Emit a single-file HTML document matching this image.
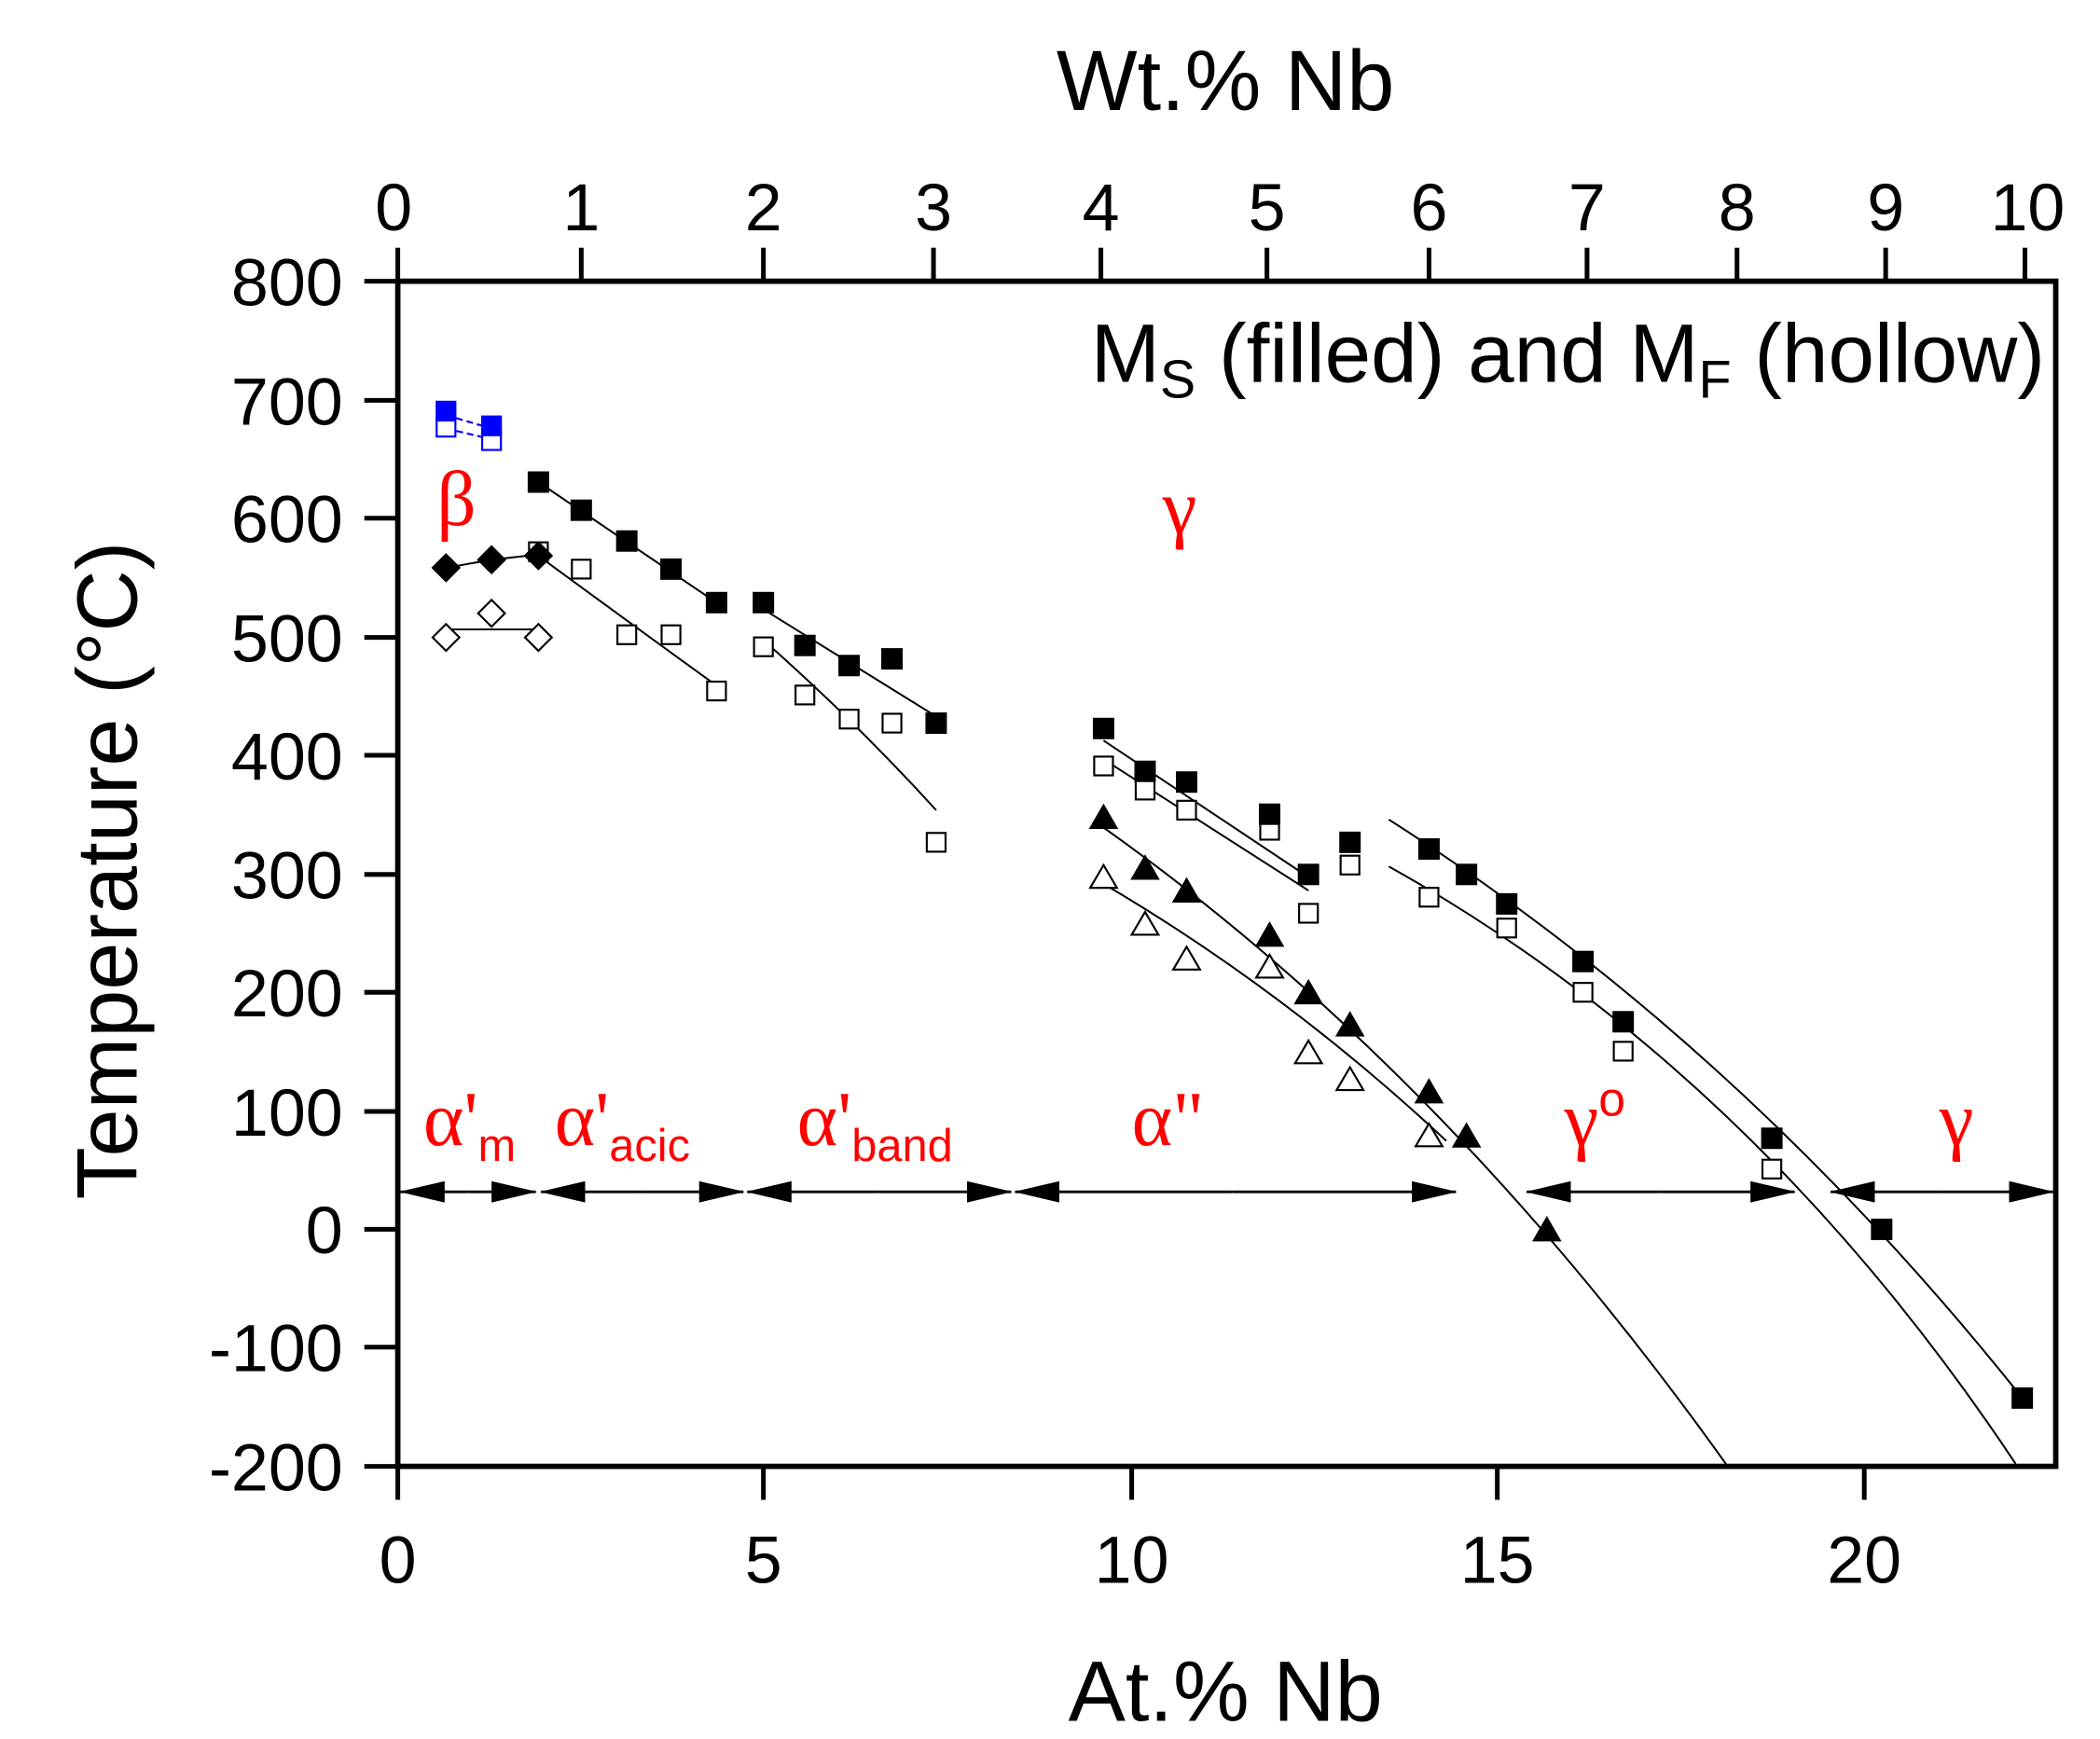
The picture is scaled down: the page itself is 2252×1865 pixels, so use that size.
<!DOCTYPE html>
<html><head><meta charset="utf-8"><style>html,body{margin:0;padding:0;background:#fff}svg{display:block}</style></head>
<body>
<svg width="2252" height="1865" viewBox="0 0 1568 1298.6" xmlns="http://www.w3.org/2000/svg" font-family="Liberation Sans, Arial, sans-serif">
<defs>
<marker id="ah" markerWidth="34" markerHeight="16" refX="33" refY="8" orient="auto" markerUnits="userSpaceOnUse"><path d="M0,0 L34,8 L0,16z" fill="#000"/></marker>
</defs>
<rect width="1568" height="1298.6" fill="#fff"/>
<g stroke="#000" stroke-width="4" fill="none">
<rect x="297" y="210" width="1238" height="885"/>
</g>
<g stroke="#000" stroke-width="3.5">
<line x1="272" y1="210" x2="297" y2="210"/><line x1="272" y1="299" x2="297" y2="299"/><line x1="272" y1="387" x2="297" y2="387"/><line x1="272" y1="476" x2="297" y2="476"/><line x1="272" y1="564" x2="297" y2="564"/><line x1="272" y1="653" x2="297" y2="653"/><line x1="272" y1="741" x2="297" y2="741"/><line x1="272" y1="830" x2="297" y2="830"/><line x1="272" y1="918" x2="297" y2="918"/><line x1="272" y1="1006" x2="297" y2="1006"/><line x1="272" y1="1095" x2="297" y2="1095"/>
<line x1="297" y1="1095" x2="297" y2="1120"/><line x1="570" y1="1095" x2="570" y2="1120"/><line x1="845" y1="1095" x2="845" y2="1120"/><line x1="1118" y1="1095" x2="1118" y2="1120"/><line x1="1392" y1="1095" x2="1392" y2="1120"/>
<line x1="297" y1="210" x2="297" y2="185"/><line x1="434" y1="210" x2="434" y2="185"/><line x1="570" y1="210" x2="570" y2="185"/><line x1="697" y1="210" x2="697" y2="185"/><line x1="822" y1="210" x2="822" y2="185"/><line x1="946" y1="210" x2="946" y2="185"/><line x1="1067" y1="210" x2="1067" y2="185"/><line x1="1185" y1="210" x2="1185" y2="185"/><line x1="1297" y1="210" x2="1297" y2="185"/><line x1="1408" y1="210" x2="1408" y2="185"/><line x1="1512" y1="210" x2="1512" y2="185"/>
</g>
<g font-size="50" text-anchor="end" fill="#000">
<text x="256" y="228">800</text><text x="256" y="317">700</text><text x="256" y="405">600</text><text x="256" y="494">500</text><text x="256" y="582">400</text><text x="256" y="671">300</text><text x="256" y="759">200</text><text x="256" y="848">100</text><text x="256" y="936">0</text><text x="256" y="1024">-100</text><text x="256" y="1113">-200</text>
</g>
<g font-size="50" text-anchor="middle">
<text x="297" y="1182">0</text><text x="570" y="1182">5</text><text x="845" y="1182">10</text><text x="1118" y="1182">15</text><text x="1392" y="1182">20</text>
<text x="294" y="172">0</text><text x="434" y="172">1</text><text x="570" y="172">2</text><text x="697" y="172">3</text><text x="822" y="172">4</text><text x="946" y="172">5</text><text x="1067" y="172">6</text><text x="1185" y="172">7</text><text x="1297" y="172">8</text><text x="1408" y="172">9</text><text x="1514" y="172">10</text>
</g>
<text x="915" y="82" font-size="64" text-anchor="middle">Wt.% Nb</text>
<text x="915" y="1285" font-size="64" text-anchor="middle">At.% Nb</text>
<text transform="translate(102,650) rotate(-90)" font-size="64" text-anchor="middle">Temperature  (°C)</text>
<text x="1527" y="285" font-size="62" text-anchor="end">M<tspan font-size="40" dy="12">S</tspan><tspan dy="-12"> (filled) and M</tspan><tspan font-size="40" dy="12">F</tspan><tspan dy="-12"> (hollow)</tspan></text>
<g fill="#f00" font-family="Liberation Serif, serif" font-size="58">
<text x="326" y="392">β</text>
<text x="868" y="398">γ</text>
<text x="316" y="855">α'<tspan font-family="Liberation Sans, sans-serif" font-size="34" dy="12">m</tspan></text>
<text x="414" y="855">α'<tspan font-family="Liberation Sans, sans-serif" font-size="34" dy="12">acic</tspan></text>
<text x="595" y="855">α'<tspan font-family="Liberation Sans, sans-serif" font-size="34" dy="12">band</tspan></text>
<text x="845" y="855">α"</text>
<text x="1168" y="855">γ<tspan font-family="Liberation Sans, sans-serif" font-size="36" dy="-22">o</tspan></text>
<text x="1448" y="855">γ</text>
</g>
<g stroke="#000" stroke-width="2">
<line x1="350" y1="890" x2="299" y2="890" marker-end="url(#ah)"/><line x1="350" y1="890" x2="400" y2="890" marker-end="url(#ah)"/>
<line x1="478" y1="890" x2="404" y2="890" marker-end="url(#ah)"/><line x1="478" y1="890" x2="555" y2="890" marker-end="url(#ah)"/>
<line x1="656" y1="890" x2="558" y2="890" marker-end="url(#ah)"/><line x1="656" y1="890" x2="755" y2="890" marker-end="url(#ah)"/>
<line x1="920" y1="890" x2="758" y2="890" marker-end="url(#ah)"/><line x1="920" y1="890" x2="1087" y2="890" marker-end="url(#ah)"/>
<line x1="1240" y1="890" x2="1140" y2="890" marker-end="url(#ah)"/><line x1="1240" y1="890" x2="1340" y2="890" marker-end="url(#ah)"/>
<line x1="1450" y1="890" x2="1367" y2="890" marker-end="url(#ah)"/><line x1="1450" y1="890" x2="1533" y2="890" marker-end="url(#ah)"/>
</g>
<g stroke="#000" stroke-width="1.4" fill="none">
<polyline points="333,424 367,418 402,414"/>
<line x1="333" y1="470" x2="402" y2="470"/>
<line x1="402" y1="360" x2="535" y2="450"/>
<path d="M402,415 Q470,465 535,512"/>
<line x1="570" y1="455" x2="699" y2="535"/>
<path d="M570,478 Q640,540 699,605"/>
<line x1="824" y1="553" x2="977" y2="655"/>
<line x1="824" y1="567" x2="977" y2="665"/>
<path d="M824,618 Q1080,800 1290,1095"/>
<path d="M824,660 Q960,740 1080,852"/>
<path d="M1037,612 Q1300,780 1510,1044"/>
<path d="M1037,647 Q1310,800 1505,1093"/>
</g>
<g stroke="#00f" stroke-width="1.5" fill="none" stroke-dasharray="5,3">
<line x1="333" y1="310" x2="367" y2="320"/><line x1="333" y1="320" x2="367" y2="328"/>
</g>
<g stroke="#00f" stroke-width="1.5">
<rect x="326" y="312" width="14" height="14" fill="#fff"/><rect x="360" y="322" width="14" height="14" fill="#fff"/>
<rect x="326" y="300" width="14" height="14" fill="#00f"/><rect x="360" y="311" width="14" height="14" fill="#00f"/>
</g>
<g fill="#fff" stroke="#000" stroke-width="1.5">
<rect x="395" y="405" width="14" height="14"/><rect x="427" y="418" width="14" height="14"/><rect x="461" y="467" width="14" height="14"/><rect x="494" y="467" width="14" height="14"/><rect x="528" y="509" width="14" height="14"/>
<rect x="563" y="476" width="14" height="14"/><rect x="594" y="512" width="14" height="14"/><rect x="627" y="530" width="14" height="14"/><rect x="659" y="533" width="14" height="14"/><rect x="692" y="622" width="14" height="14"/>
<rect x="817" y="565" width="14" height="14"/><rect x="848" y="583" width="14" height="14"/><rect x="879" y="598" width="14" height="14"/><rect x="941" y="613" width="14" height="14"/><rect x="970" y="675" width="14" height="14"/><rect x="1001" y="639" width="14" height="14"/>
<rect x="1060" y="663" width="14" height="14"/><rect x="1118" y="686" width="14" height="14"/><rect x="1175" y="734" width="14" height="14"/><rect x="1205" y="778" width="14" height="14"/><rect x="1316" y="866" width="14" height="14"/>
</g>
<g fill="#000">
<rect x="394" y="352" width="16" height="16"/><rect x="426" y="373" width="16" height="16"/><rect x="460" y="396" width="16" height="16"/><rect x="493" y="417" width="16" height="16"/><rect x="527" y="442" width="16" height="16"/>
<rect x="562" y="442" width="16" height="16"/><rect x="593" y="474" width="16" height="16"/><rect x="626" y="489" width="16" height="16"/><rect x="658" y="484" width="16" height="16"/><rect x="691" y="532" width="16" height="16"/>
<rect x="816" y="536" width="16" height="16"/><rect x="847" y="568" width="16" height="16"/><rect x="878" y="576" width="16" height="16"/><rect x="940" y="600" width="16" height="16"/><rect x="969" y="645" width="16" height="16"/><rect x="1000" y="621" width="16" height="16"/>
<rect x="1059" y="626" width="16" height="16"/><rect x="1087" y="645" width="16" height="16"/><rect x="1117" y="667" width="16" height="16"/><rect x="1174" y="710" width="16" height="16"/><rect x="1204" y="755" width="16" height="16"/><rect x="1315" y="842" width="16" height="16"/><rect x="1397" y="910" width="16" height="16"/><rect x="1502" y="1036" width="16" height="16"/>
</g>
<g fill="#000"><path d="M333,413 l11,11 -11,11 -11,-11z"/><path d="M367,407 l11,11 -11,11 -11,-11z"/><path d="M402,404 l11,11 -11,11 -11,-11z"/></g>
<g fill="#fff" stroke="#000" stroke-width="1.5"><path d="M333,466 l10,10 -10,10 -10,-10z"/><path d="M367,448 l10,10 -10,10 -10,-10z"/><path d="M402,466 l10,10 -10,10 -10,-10z"/></g>
<g fill="#000">
<path d="M824,600 l11,19 h-22z"/><path d="M855,638 l11,19 h-22z"/><path d="M886,655 l11,19 h-22z"/><path d="M948,688 l11,19 h-22z"/><path d="M977,731 l11,19 h-22z"/><path d="M1008,755 l11,19 h-22z"/><path d="M1067,805 l11,19 h-22z"/><path d="M1095,838 l11,19 h-22z"/><path d="M1155,908 l11,19 h-22z"/>
</g>
<g fill="#fff" stroke="#000" stroke-width="1.5">
<path d="M824,646 l10,17 h-20z"/><path d="M855,681 l10,17 h-20z"/><path d="M886,707 l10,17 h-20z"/><path d="M948,713 l10,17 h-20z"/><path d="M977,777 l10,17 h-20z"/><path d="M1008,797 l10,17 h-20z"/><path d="M1067,839 l10,17 h-20z"/>
</g>
</svg>
</body></html>
